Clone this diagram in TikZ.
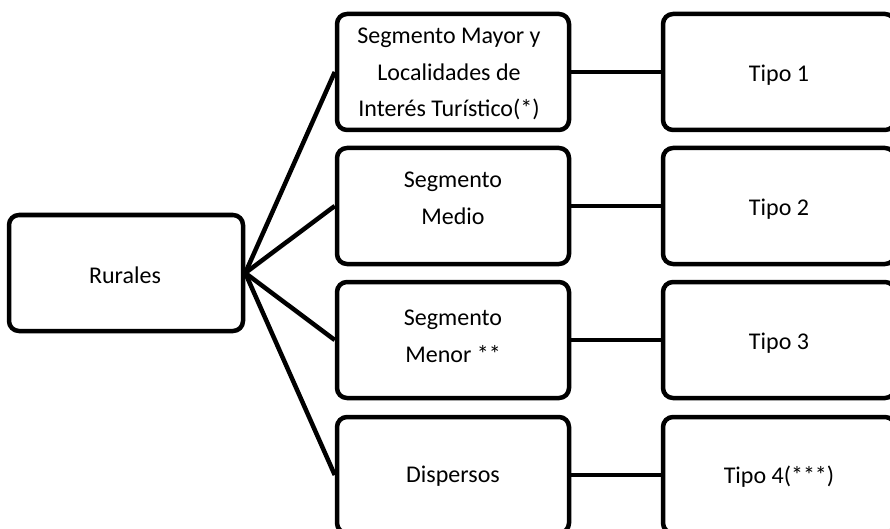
\documentclass[tikz,border=0pt]{standalone}
\usepackage{fontspec}
\setmainfont{Carlito}
\begin{document}
\begin{tikzpicture}[x=1pt,y=-1pt,
  box/.style={draw=black,line width=4.5pt,rounded corners=10pt,fill=white,
    minimum width=232pt,minimum height=116pt,inner sep=0pt},
  txt/.style={align=center,inner sep=0pt,font=\fontsize{24}{36.6}\selectfont},
  conn/.style={line width=4.5pt,draw=black}]
\useasboundingbox (0,0) rectangle (890,529);
% left
\node[box,minimum width=234pt] (r) at (126,273) {};
\node[txt] (rt) at (125,275) {Rurales};
% middle column
\node[box] (m1) at (453,72) {};
\node[box] (m2) at (453,206) {};
\node[box] (m3) at (453,340) {};
\node[box] (m4) at (453,475) {};
\node[txt] (m1t) at (449,74) {Segmento Mayor y\\Localidades de\\Interés Turístico(*)};
\node[txt] (m2t) at (453,198) {Segmento\\Medio};
\node[txt] (m3t) at (453,336) {Segmento\\Menor **};
\node[txt] (m4t) at (453,476) {Dispersos};
% right column
\node[box] (t1) at (779,72) {};
\node[box] (t2) at (779,206) {};
\node[box] (t3) at (779,340) {};
\node[box] (t4) at (779,475) {};
\node[txt] (t1t) at (779,75) {Tipo 1};
\node[txt] (t2t) at (779,209) {Tipo 2};
\node[txt] (t3t) at (779,343) {Tipo 3};
\node[txt] (t4t) at (779,477) {Tipo 4(***)};
% connectors
\foreach \i in {1,2,3,4}{
  \draw[conn] (r.east) -- (m\i.west);
  \draw[conn] (m\i.east) -- (t\i.west);
}
\end{tikzpicture}
\end{document}
